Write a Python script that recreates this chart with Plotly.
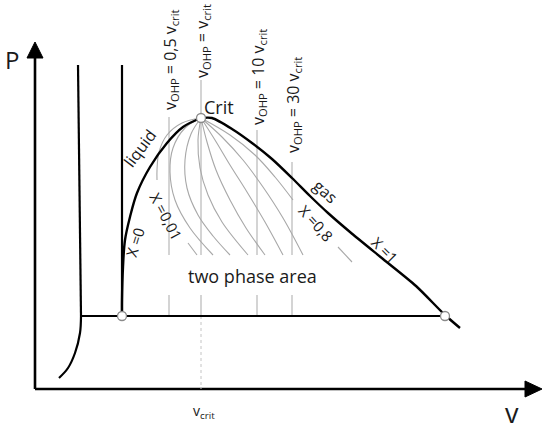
import plotly.graph_objects as go

# drawing units: v to the right, P upwards, origin at the corner of the two axes
axis_v = [0, 490]
axis_P = [0, 331]

# solid / liquid boundary lines
solid_v = [43, 46]
solid_P = [324, 73]
solid_tail_v = [46, 45, 40, 33, 24]
solid_tail_P = [73, 56, 36, 21, 11]
melt_v = [87, 87]
melt_P = [324, 73]

# triple line
triple_v = [46, 410]
triple_P = [73, 73]

# saturation dome
liquid_v = [87, 87, 88, 90, 95, 102, 115, 132, 148, 166]
liquid_P = [73, 89, 122, 149, 172, 196, 222, 246, 262, 271]
gas_v = [166, 177, 197, 217, 237, 257, 275, 293, 315, 348, 381, 410, 425]
gas_P = [271, 271, 260, 246, 230, 211, 193, 176, 157, 130, 103, 74, 61]

# points marked with circles (x=0 end, critical point, x=1 end)
mark_v = [87, 166, 410]
mark_P = [73, 271, 73]

# lines of constant quality x
x001_v = [166, 147, 132, 124, 122, 122]
x001_P = [271, 266, 254, 237, 219, 209]
x001_tail_v = [153, 162]
x001_tail_P = [146, 134]
xq2_v = [166, 150, 138, 135, 140, 155, 178]
xq2_P = [271, 261, 241, 217, 189, 161, 134]
xq3_v = [166, 156, 150, 152, 163, 178, 195]
xq3_P = [271, 255, 229, 201, 174, 153, 134]
xq4_v = [166, 163, 165, 173, 187, 213]
xq4_P = [271, 249, 221, 194, 167, 134]
xq5_v = [166, 172, 181, 195, 211, 230]
xq5_P = [271, 247, 219, 189, 161, 134]
xq6_v = [166, 180, 195, 212, 230, 248]
xq6_P = [271, 249, 224, 197, 167, 134]
xq7_v = [166, 187, 208, 228, 248, 268]
xq7_P = [271, 252, 229, 202, 171, 134]
x08_v = [166, 195, 220, 240, 258]
x08_P = [271, 254, 234, 212, 189]
x08_tail_v = [303, 317]
x08_tail_P = [142, 127]

quality_lines = [
    (x001_v, x001_P), (x001_tail_v, x001_tail_P),
    (xq2_v, xq2_P), (xq3_v, xq3_P), (xq4_v, xq4_P),
    (xq5_v, xq5_P), (xq6_v, xq6_P), (xq7_v, xq7_P),
    (x08_v, x08_P), (x08_tail_v, x08_tail_P),
]

# lines of constant v_OHP: position and top end
ohp_v = [134, 166, 222, 257]
ohp_top = [272, 309, 259, 227]
ohp_gap = [134, 94]   # lines break around the "two phase area" text
ohp_labels = ["0,5 v<sub>crit</sub>", "v<sub>crit</sub>", "10 v<sub>crit</sub>", "30 v<sub>crit</sub>"]
ohp_label_P = [329, 348, 312, 284]

FONT = "Open Sans"
fig = go.Figure()


def add_line(v, p, color="black", width=2.2, shape="linear", dash="solid", smoothing=1.0):
    fig.add_trace(go.Scatter(
        x=v, y=p, mode="lines", hoverinfo="skip",
        line=dict(color=color, width=width, shape=shape, smoothing=smoothing, dash=dash),
    ))


# axes with arrow heads
add_line([axis_v[0], axis_v[0]], [axis_P[0], axis_P[1]], width=2.6)
add_line([axis_v[0], axis_v[1]], [axis_P[0], axis_P[0]], width=2.6)
fig.add_trace(go.Scatter(x=[-8, 8, 0, -8], y=[331, 331, 347, 331], mode="lines",
                         fill="toself", fillcolor="black", line=dict(color="black", width=1),
                         hoverinfo="skip"))
fig.add_trace(go.Scatter(x=[490, 490, 507, 490], y=[-8, 8, 0, -8], mode="lines",
                         fill="toself", fillcolor="black", line=dict(color="black", width=1),
                         hoverinfo="skip"))

# constant v_OHP lines (gray verticals)
for v, top in zip(ohp_v, ohp_top):
    add_line([v, v], [top, ohp_gap[0]], color="#bdbdbd", width=1.3)
    add_line([v, v], [ohp_gap[1], triple_P[0]], color="#bdbdbd", width=1.3)
add_line([ohp_v[1], ohp_v[1]], [triple_P[0], 0], color="#c4c4c4", width=1, dash="dot")

# constant quality lines
for v, p in quality_lines:
    add_line(v, p, color="#a8a8a8", width=1.1, shape="spline")

# black lines
add_line(solid_v, solid_P, width=2.2)
add_line(solid_tail_v, solid_tail_P, width=2.2, shape="spline")
add_line(melt_v, melt_P, width=2.2)
add_line(triple_v, triple_P, width=2.2)
add_line(liquid_v, liquid_P, width=2.4, shape="spline")
add_line(gas_v, gas_P, width=2.4, shape="spline", smoothing=0.7)

fig.add_trace(go.Scatter(
    x=mark_v, y=mark_P, mode="markers", hoverinfo="skip",
    marker=dict(size=9, color="white", line=dict(color="#8a8a8a", width=1.3)),
))

annotations = [
    dict(x=-23, y=330, text="P", font=dict(size=24)),
    dict(x=477, y=-44, text="v", font=dict(size=27), yanchor="bottom"),
    dict(x=169, y=-22, text="v<sub>crit</sub>", font=dict(size=14)),
    dict(x=184, y=282, text="Crit", font=dict(size=18)),
    dict(x=105, y=241, text="liquid", font=dict(size=16), textangle=-53),
    dict(x=100, y=147, text="X =0", font=dict(size=15), textangle=-73),
    dict(x=131, y=173, text="X =0,01", font=dict(size=15), textangle=62),
    dict(x=281, y=166, text="X =0,8", font=dict(size=15), textangle=48),
    dict(x=290, y=198, text="gas", font=dict(size=16), textangle=42),
    dict(x=350, y=139, text="X =1", font=dict(size=15), textangle=45),
    dict(x=217, y=113, text="two phase area", font=dict(size=18)),
]
for v, p, lab in zip(ohp_v, ohp_label_P, ohp_labels):
    annotations.append(dict(x=v + 1, y=p, text="v<sub>OHP</sub> = " + lab,
                            font=dict(size=16), textangle=-90))

for a in annotations:
    a.setdefault("yanchor", "middle")
    a.update(xref="x", yref="y", showarrow=False, xanchor="center")
    a["font"].update(family=FONT, color="#1a1a1a")

fig.update_layout(
    width=550,
    height=434,
    margin=dict(l=0, r=0, t=0, b=0),
    showlegend=False,
    plot_bgcolor="white",
    paper_bgcolor="white",
    xaxis=dict(range=[-35, 515], visible=False, fixedrange=True),
    yaxis=dict(range=[-45, 389], visible=False, fixedrange=True),
    annotations=annotations,
)

# drop the default page margin so the figure sits at the window corner
fig.write_html("out.html", config={"displayModeBar": False},
               post_script="document.body.style.margin='0';")
